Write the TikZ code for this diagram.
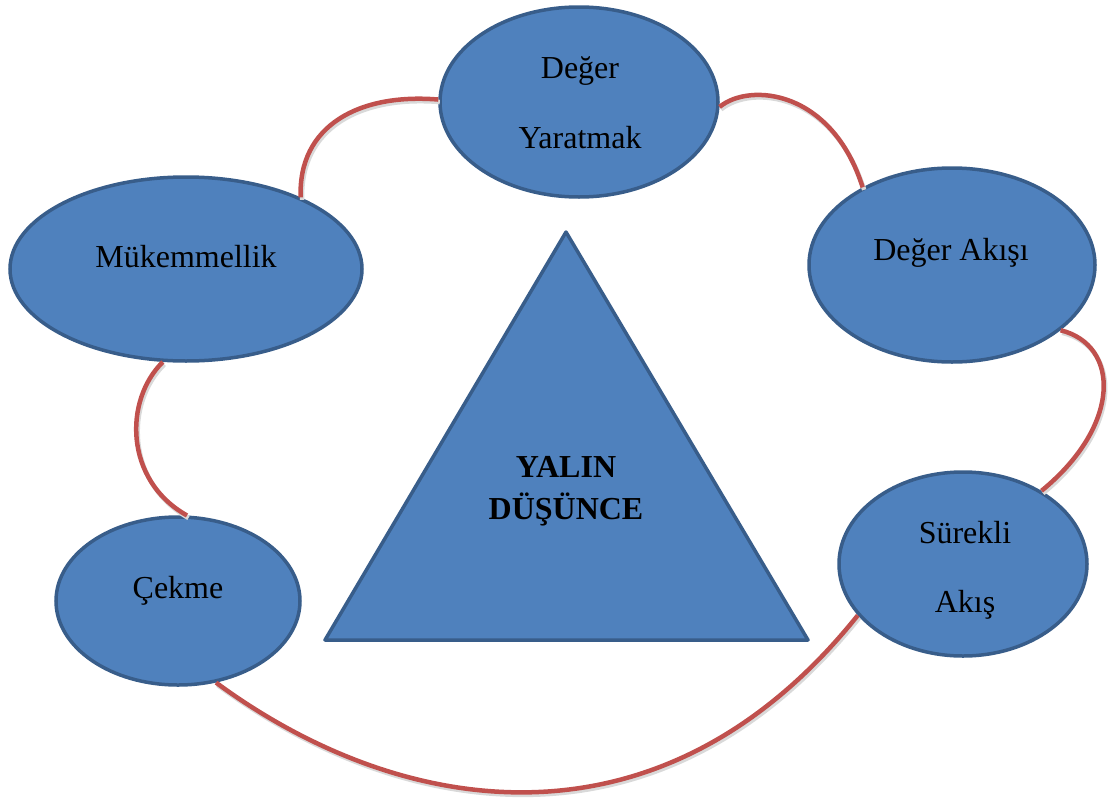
\documentclass[tikz,border=0pt]{standalone}
\usepackage{fontspec}
\setmainfont{Liberation Serif}
\usetikzlibrary{shapes.geometric}

\definecolor{cellblue}{HTML}{4F81BD}
\definecolor{edgeblue}{HTML}{385D8A}
\definecolor{linkred}{HTML}{C0504D}

\begin{document}
\begin{tikzpicture}[x=1pt, y=-1pt,
  bubble/.style={ellipse, draw=edgeblue, fill=cellblue, line width=3.5pt, inner sep=0pt},
  word/.style={font=\fontsize{32}{38}\selectfont, align=center, inner sep=0pt},
  link/.style={draw=linkred, line width=4.5pt,
    preaction={draw=black!15, line width=4.5pt, transform canvas={shift={(1.5pt,-2.5pt)}}}}]
  \useasboundingbox (0,0) rectangle (1108,803);
  % draw the five ellipse cells
  \node[bubble, minimum width=352, minimum height=184] (mukem) at (186,269) {};
  \node[bubble, minimum width=278, minimum height=190] (yarat) at (579,102) {};
  \node[bubble, minimum width=286, minimum height=194] (akis) at (952,265) {};
  \node[bubble, minimum width=248, minimum height=184] (surekli) at (963,564) {};
  \node[bubble, minimum width=244, minimum height=168] (cekme) at (178,601) {};
  % draw the centre triangle
  \draw[draw=edgeblue, fill=cellblue, line width=3.5pt, line join=round] (566,232) -- (808,640) -- (325,640) -- cycle;
  % draw the cell texts
  \node[word, anchor=base] (mukem_txt) at (186,267) {Mükemmellik};
  \node[word] (yarat_txt) at (580,103) {Değer\\[32pt]Yaratmak};
  \node[word, anchor=base] (akis_txt) at (951,260) {Değer Akışı};
  \node[word] (surekli_txt) at (965,570) {Sürekli\\[31pt]Akış};
  \node[word, anchor=base] (cekme_txt) at (178,598) {Çekme};
  \node[word, font=\fontsize{32}{38}\selectfont\bfseries] (yalin_txt) at (566,491) {YALIN\\[4pt]DÜŞÜNCE};
  % draw red links between the cells
  \draw[link] (mukem.32) .. controls (298,125) and (360,93) .. (yarat.179);
  \draw[link] (yarat.358) .. controls (750,82) and (832,90) .. (akis.139);
  \draw[link] (akis.329) .. controls (1120,345) and (1122,425) .. (surekli.43);
  \draw[link] (mukem.256) .. controls (124,400) and (124,480) .. (cekme.84);
  \draw[link] (cekme.295) .. controls (400,818) and (660,862) .. (surekli.206);
\end{tikzpicture}
\end{document}
